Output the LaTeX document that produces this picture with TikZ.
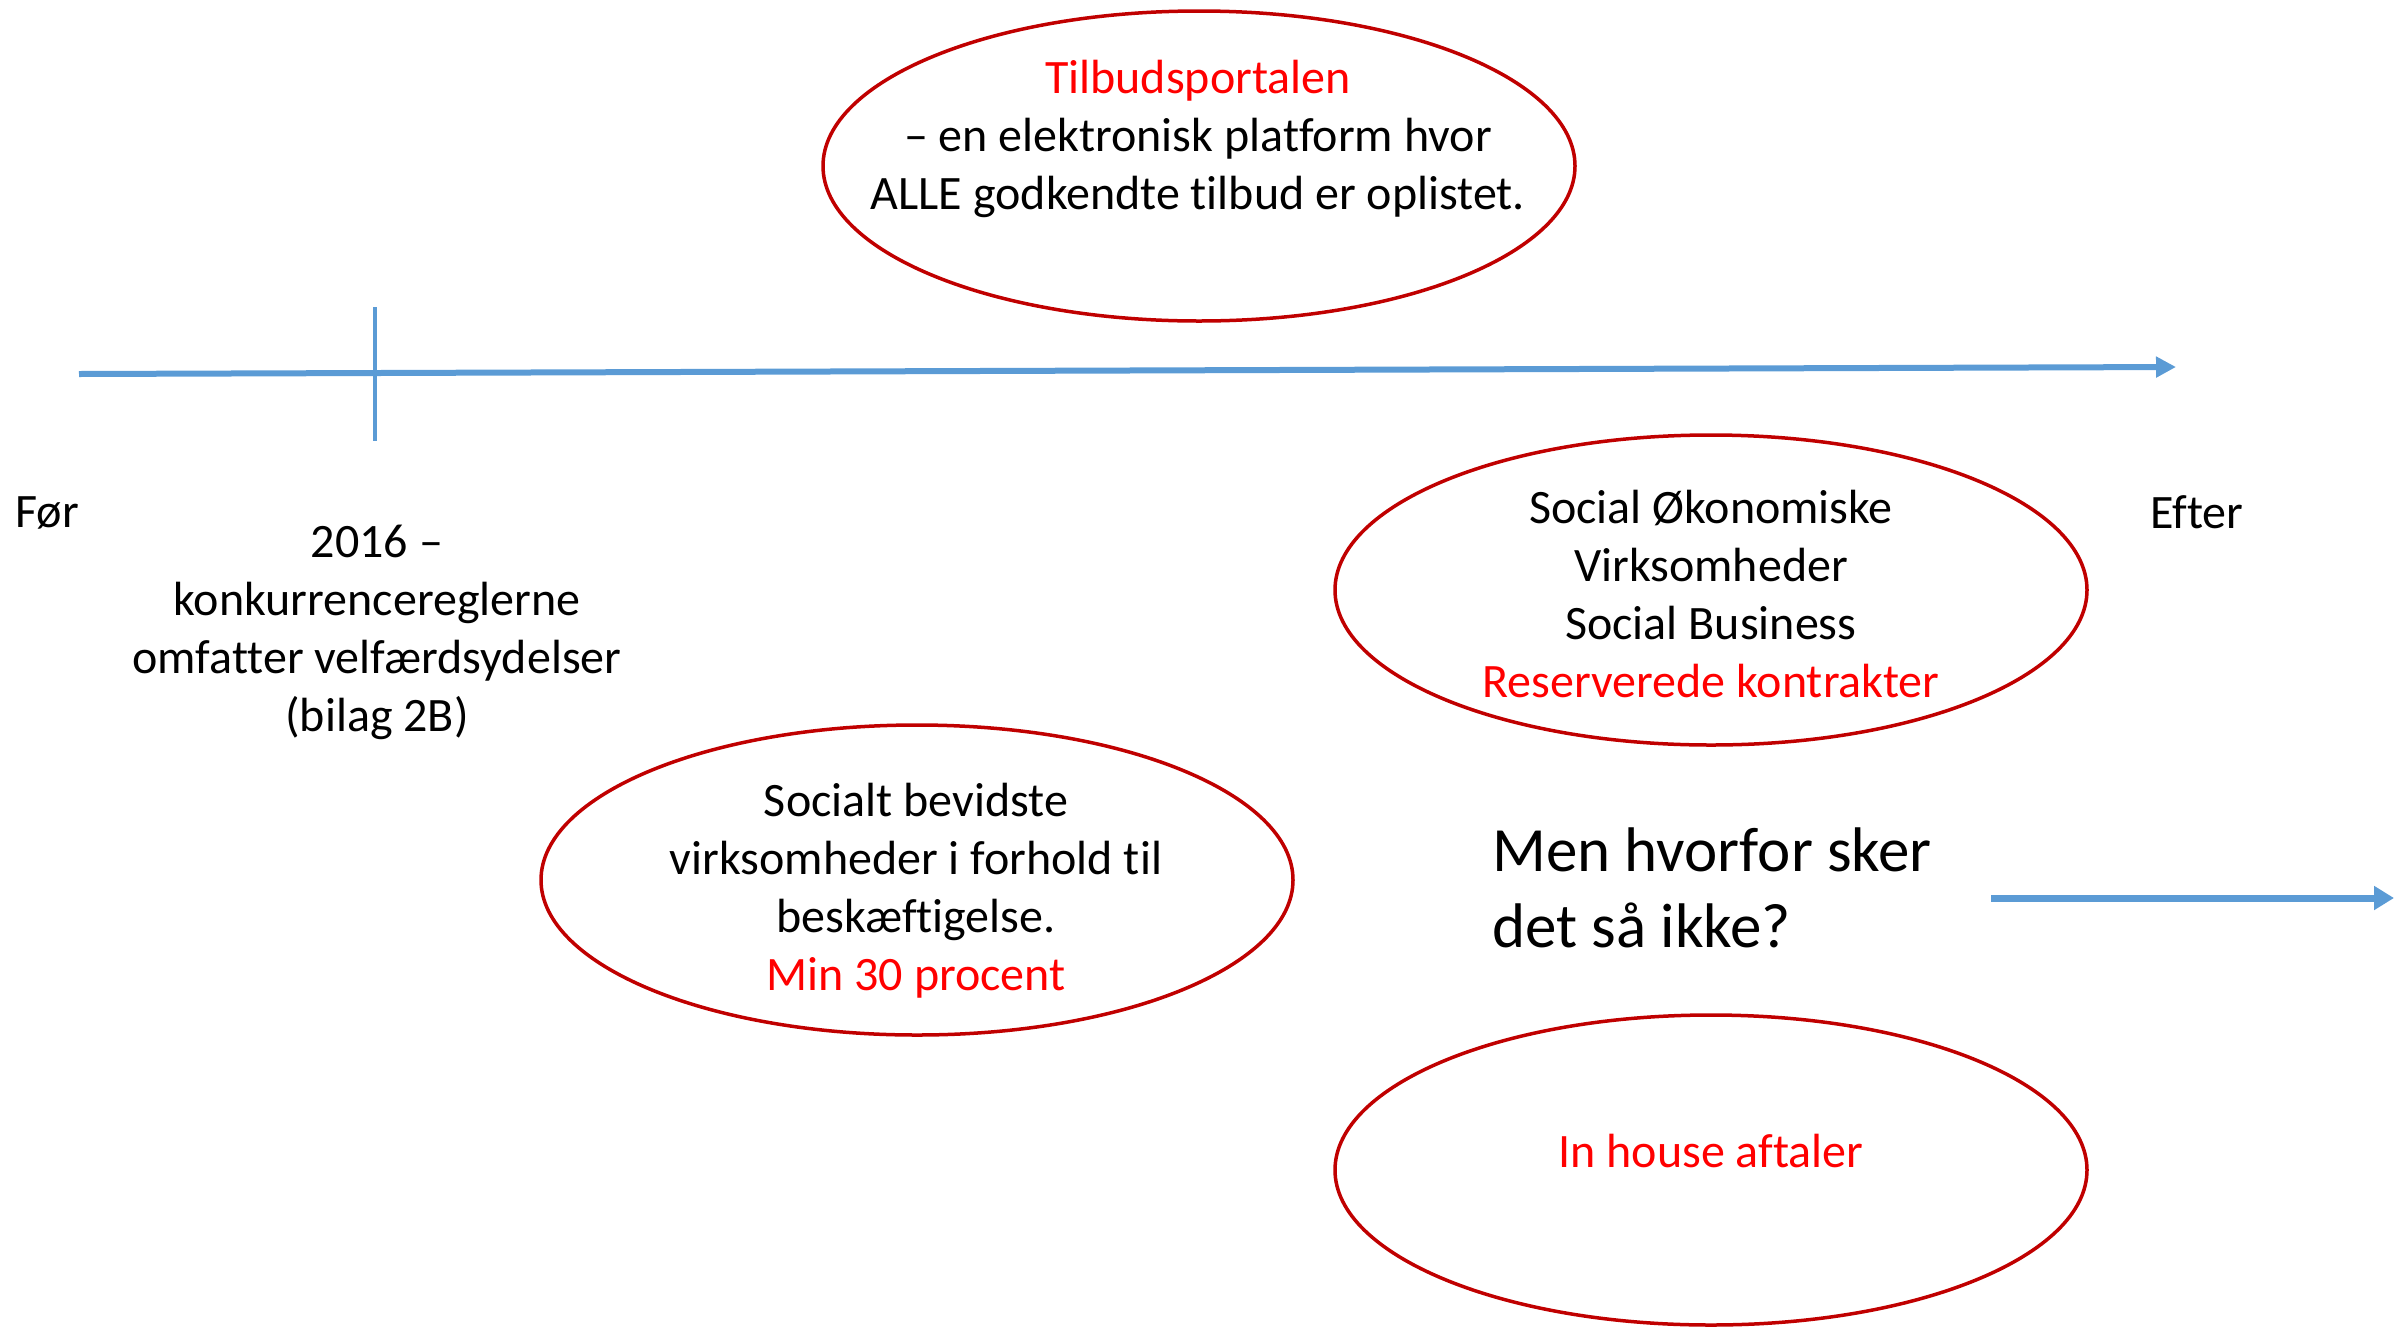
\documentclass[tikz,border=0pt]{standalone}
\usepackage{fontspec}
\setmainfont{Carlito}[Ligatures={NoCommon}]
\usetikzlibrary{shapes.geometric,arrows.meta}
\definecolor{axisblue}{HTML}{5B9BD5}
\definecolor{ringred}{HTML}{C00000}
\definecolor{tred}{HTML}{FF0000}
\tikzset{
  ring/.style={draw=ringred, line width=3.5pt, ellipse, minimum width=752pt, minimum height=310pt, inner sep=0pt},
  txt/.style={align=center, font=\fontsize{48}{58}\selectfont, inner sep=0pt},
  bigtxt/.style={align=left, font=\fontsize{63}{76}\selectfont, inner sep=0pt},
  axisline/.style={draw=axisblue, line width=6pt},
}
\begin{document}
\begin{tikzpicture}[x=1pt,y=-1pt]
\useasboundingbox (0,0) rectangle (2394,1326);
% axis
\coordinate (axs) at (79,374);
\coordinate (axe) at (2176,367);
\draw[axisline, -{Triangle[length=20pt,width=20pt]}] (axs) -- (axe);
\coordinate (tk1) at (375,307);
\coordinate (tk2) at (375,441);
\draw[draw=axisblue, line width=4pt] (tk1) -- (tk2);
% ellipses
\node[ring] (e1) at (1199,166) {};
\node[ring] (e2) at (1711,590) {};
\node[ring] (e3) at (917,880) {};
\node[ring] (e4) at (1711,1170) {};
% texts
\node[txt] (t1) at (1198,139) {\textcolor{tred}{Tilbudsportalen}\\ – en elektronisk platform hvor\\ ALLE godkendte tilbud er oplistet.};
\node[txt] (fr) at (47,513) {Før};
\node[txt] (ef) at (2197,512) {Efter};
\node[txt] (t16) at (377,632) {2016 –\\ konkurrencereglerne\\ omfatter velfærdsydelser\\ (bilag 2B)};
\node[txt] (t2) at (1711,594) {Social Økonomiske\\ Virksomheder\\ Social Business\\ \textcolor{tred}{Reserverede kontrakter}};
\node[txt] (t3) at (916,891) {Socialt bevidste\\ virksomheder i forhold til\\ beskæftigelse.\\ \textcolor{tred}{Min 30 procent}};
\node[bigtxt, anchor=west] (q) at (1492,888) {Men hvorfor sker\\ det så ikke?};
\node[txt] (t4) at (1711,1151) {\textcolor{tred}{In house aftaler}};
% second arrow
\coordinate (a2s) at (1991,898);
\coordinate (a2e) at (2394,898);
\draw[draw=axisblue, line width=7pt, -{Triangle[length=20pt,width=23pt]}] (a2s) -- (a2e);
\end{tikzpicture}
\end{document}
